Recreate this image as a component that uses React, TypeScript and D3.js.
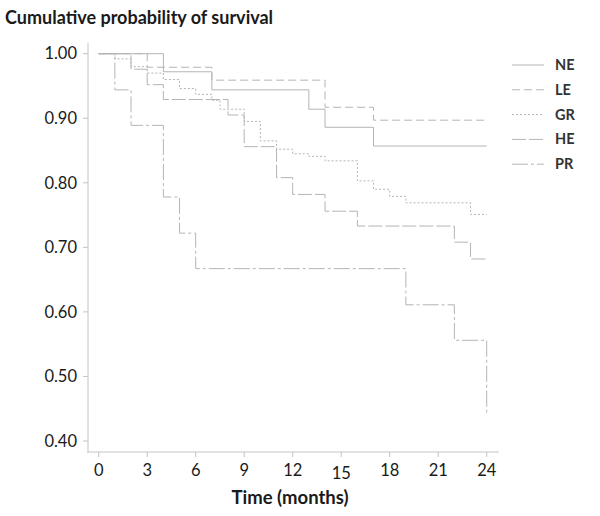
import React, { useEffect, useRef } from 'react';
import * as d3 from 'd3';

// Kaplan-Meier steps: [time (months), survival]
const NE = [[0, 1], [4, 0.972], [7, 0.944], [13, 0.914], [14, 0.886], [17, 0.857], [24, 0.857]];
const LE = [[0, 1], [3, 0.979], [7, 0.959], [14, 0.917], [17, 0.897], [24, 0.897]];
const GR = [[0, 1], [1, 0.992], [2, 0.98], [3, 0.97], [4, 0.96], [5, 0.946], [6, 0.937], [7, 0.928], [7.5, 0.914],
  [9, 0.895], [10, 0.865], [11, 0.852], [12, 0.845], [13, 0.841], [14, 0.834], [16, 0.803], [17, 0.79],
  [18, 0.779], [19, 0.769], [23, 0.751], [24, 0.751]];
const HE = [[0, 1], [2, 0.976], [3, 0.952], [4, 0.929], [8, 0.905], [9, 0.856], [11, 0.808], [12, 0.782],
  [14, 0.756], [16, 0.733], [22, 0.708], [23, 0.682], [24, 0.682]];
const PR = [[0, 1], [1, 0.944], [2, 0.889], [4, 0.778], [5, 0.722], [6, 0.667], [19, 0.611], [22, 0.556], [24, 0.444]];

const seriesNames = ['NE', 'LE', 'GR', 'HE', 'PR'];
const seriesData = [NE, LE, GR, HE, PR];
const dashes = ['none', '8,4', '2,2', '14,3', '16,3,3,3'];

const xTicks = [0, 3, 6, 9, 12, 15, 18, 21, 24];
const yTicks = [0.4, 0.5, 0.6, 0.7, 0.8, 0.9, 1.0];

const FONT = 'Lato, "Open Sans", sans-serif';

export default function App() {
  const ref = useRef<SVGSVGElement | null>(null);
  const width = 600;
  const height = 516;

  useEffect(() => {
    const svg = d3.select(ref.current);
    svg.selectAll('*').remove();

    const x = d3.scaleLinear().domain([0, 24]).range([98.7, 486.7]);
    const y = d3.scaleLinear().domain([0.4, 1.0]).range([441, 53.7]);
    const axisColor = '#c4c4c4';
    const lineColor = '#b4b4b4';
    const textColor = '#1a1a1a';

    // title
    svg.append('text')
      .attr('x', 5)
      .attr('y', 24)
      .style('font-family', FONT)
      .style('font-size', '18px')
      .style('font-weight', 'bold')
      .style('fill', textColor)
      .text('Cumulative probability of survival');

    // y axis
    svg.append('line')
      .attr('x1', 88).attr('x2', 88)
      .attr('y1', 43).attr('y2', 452)
      .attr('stroke', axisColor);

    const yg = svg.append('g');
    yg.selectAll('line')
      .data(yTicks)
      .enter()
      .append('line')
      .attr('x1', 83).attr('x2', 88)
      .attr('y1', d => y(d)).attr('y2', d => y(d))
      .attr('stroke', axisColor);
    yg.selectAll('text')
      .data(yTicks)
      .enter()
      .append('text')
      .attr('x', 77)
      .attr('y', d => y(d))
      .attr('dy', '0.35em')
      .attr('text-anchor', 'end')
      .style('font-family', FONT)
      .style('font-size', '16.5px')
      .style('fill', textColor)
      .text(d => d3.format('.2f')(d));

    // x axis
    svg.append('line')
      .attr('x1', 87).attr('x2', 499)
      .attr('y1', 452).attr('y2', 452)
      .attr('stroke', axisColor);

    const xg = svg.append('g');
    xg.selectAll('line')
      .data(xTicks)
      .enter()
      .append('line')
      .attr('x1', d => x(d)).attr('x2', d => x(d))
      .attr('y1', 452).attr('y2', 457)
      .attr('stroke', axisColor);
    xg.selectAll('text')
      .data(xTicks)
      .enter()
      .append('text')
      .attr('x', d => x(d))
      .attr('y', d => (d === 15 ? 473 : 470))
      .attr('dy', '0.35em')
      .attr('text-anchor', 'middle')
      .style('font-family', FONT)
      .style('font-size', '16.5px')
      .style('fill', textColor)
      .text(d => d);

    svg.append('text')
      .attr('x', 290)
      .attr('y', 498)
      .attr('dy', '0.35em')
      .attr('text-anchor', 'middle')
      .style('font-family', FONT)
      .style('font-size', '18.5px')
      .style('font-weight', 'bold')
      .style('fill', textColor)
      .text('Time (months)');

    // survival curves
    const line = d3.line<number[]>()
      .x(d => x(d[0]))
      .y(d => y(d[1]))
      .curve(d3.curveStepAfter);

    svg.append('g')
      .selectAll('path')
      .data(seriesData)
      .enter()
      .append('path')
      .attr('d', d => line(d))
      .attr('fill', 'none')
      .attr('stroke', lineColor)
      .attr('stroke-width', 1)
      .attr('stroke-dasharray', (d, i) => dashes[i]);

    // legend
    const legend = svg.append('g')
      .selectAll('g')
      .data(seriesNames)
      .enter()
      .append('g')
      .attr('transform', (d, i) => `translate(512, ${65 + i * 24.8})`);

    legend.append('line')
      .attr('x1', 0).attr('x2', 32)
      .attr('y1', 0).attr('y2', 0)
      .attr('stroke', lineColor)
      .attr('stroke-dasharray', (d, i) => dashes[i]);

    legend.append('text')
      .attr('x', 43)
      .attr('dy', '0.35em')
      .style('font-family', FONT)
      .style('font-size', '14.5px')
      .style('font-weight', 'bold')
      .style('fill', '#333')
      .text(d => d);
  }, []);

  return (
    <svg
      ref={ref}
      width={width}
      height={height}
      style={{ position: 'absolute', left: 0, top: 0, background: '#fff' }}
    />
  );
}
